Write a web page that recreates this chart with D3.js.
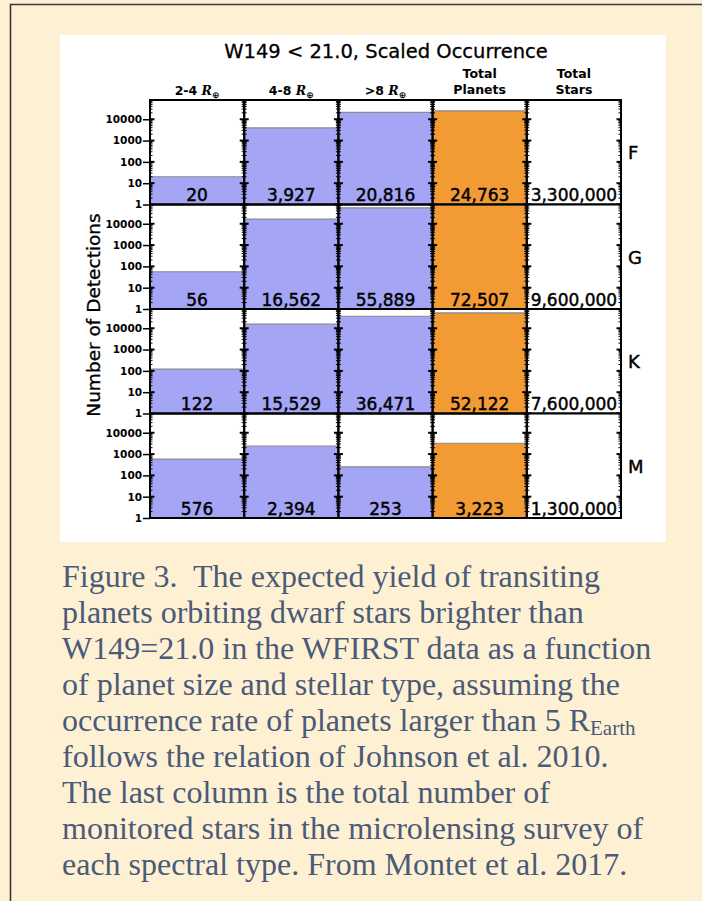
<!DOCTYPE html>
<html>
<head>
<meta charset="utf-8">
<script src="https://cdn.jsdelivr.net/npm/d3@7"></script>
<style>
  body { margin: 0; background: #fef1d3; }
  svg { display: block; }
</style>
</head>
<body>
<div id="chart"></div>
<script>
// values
var starTypes = ["F", "G", "K", "M"];
var colLabels = ["2-4", "4-8", ">8", "Total Planets", "Total Stars"];
var size24 = [20, 56, 122, 576];
var size48 = [3927, 16562, 15529, 2394];
var size8 = [20816, 55889, 36471, 253];
var totalPlanets = [24763, 72507, 52122, 3223];
var totalStars = [3300000, 9600000, 7600000, 1300000];
var yTicks = [1, 10, 100, 1000, 10000];
var captionLines = [
  "Figure 3.  The expected yield of transiting",
  "planets orbiting dwarf stars brighter than",
  "W149=21.0 in the WFIRST data as a function",
  "of planet size and stellar type, assuming the",
  "occurrence rate of planets larger than 5 R",
  "follows the relation of Johnson et al. 2010.",
  "The last column is the total number of",
  "monitored stars in the microlensing survey of",
  "each spectral type. From Montet et al. 2017."
];

var columns = [size24, size48, size8, totalPlanets, totalStars];
var colColors = ["#a5a5f6", "#a5a5f6", "#a5a5f6", "#f29b35", "#ffffff"];
var width = 702, height = 901;
var fmt = d3.format(",");

var svg = d3.select("#chart").append("svg")
    .attr("width", width)
    .attr("height", height)
    .attr("font-family", "DejaVu Sans, sans-serif");

// cream page with border on top/left
svg.append("rect").attr("width", width).attr("height", height).attr("fill", "#fef1d3");
svg.append("path")
    .attr("d", "M10.5," + height + "V4.5H" + width)
    .attr("fill", "none")
    .attr("stroke", "#3a3a3a")
    .attr("stroke-width", 1.6);

// white figure panel
svg.append("rect")
    .attr("x", 60).attr("y", 35)
    .attr("width", 606).attr("height", 507)
    .attr("fill", "#fff");

var x = d3.scaleBand().domain(d3.range(colLabels.length)).range([150, 621]);
var row = d3.scaleBand().domain(starTypes).range([100, 518]);
var y = d3.scaleLog().domain([1, 80000]).range([row.bandwidth(), 0]);
var allTicks = y.ticks();
var minorTicks = allTicks.filter(function(d) { return yTicks.indexOf(d) < 0; });

svg.append("text")
    .attr("x", 386).attr("y", 58)
    .attr("text-anchor", "middle")
    .attr("font-size", 19.5)
    .attr("stroke", "#000").attr("stroke-width", 0.3)
    .text("W149 < 21.0, Scaled Occurrence");

// column headers
var heads = svg.append("g").attr("font-weight", "bold").attr("font-size", 12.5).attr("text-anchor", "middle");
colLabels.forEach(function(lab, j) {
  var cx = x(j) + x.bandwidth() / 2;
  if (j < 3) {
    var t = heads.append("text").attr("x", cx).attr("y", 95);
    t.append("tspan").text(lab + " ");
    t.append("tspan").attr("font-style", "italic").attr("font-family", "DejaVu Serif").text("R");
    t.append("tspan").attr("font-size", 9).attr("dy", 3).text("\u2295");
  } else {
    lab.split(" ").forEach(function(w, k) {
      heads.append("text").attr("x", cx).attr("y", 78 + k * 16).text(w);
    });
  }
});

svg.append("text")
    .attr("transform", "translate(100,315) rotate(-90)")
    .attr("text-anchor", "middle")
    .attr("font-size", 18.5)
    .attr("stroke", "#000").attr("stroke-width", 0.3)
    .text("Number of Detections");

starTypes.forEach(function(st, i) {
  var g = svg.append("g").attr("transform", "translate(0," + row(st) + ")");
  var h = row.bandwidth();

  columns.forEach(function(vals, j) {
    var v = vals[i];
    var top = Math.max(0, y(v));
    g.append("rect")
        .attr("x", x(j)).attr("y", top)
        .attr("width", x.bandwidth()).attr("height", h - top)
        .attr("fill", colColors[j]);
    if (y(v) > 0) {
      g.append("line")
          .attr("x1", x(j)).attr("x2", x(j) + x.bandwidth())
          .attr("y1", top).attr("y2", top)
          .attr("stroke", "#8a8a8a").attr("stroke-width", 1.2);
    }
    g.append("text")
        .attr("x", x(j) + x.bandwidth() / 2)
        .attr("y", h - 3.5)
        .attr("text-anchor", "middle")
        .attr("font-size", 17)
        .attr("stroke", "#000").attr("stroke-width", 0.45)
        .text(fmt(v));

    // inward ticks on both spines of each cell
    [x(j), x(j) + x.bandwidth()].forEach(function(sx, s) {
      var dir = s == 0 ? 1 : -1;
      g.selectAll(null).data(minorTicks).enter().append("line")
          .attr("x1", sx).attr("x2", sx + dir * 2.5)
          .attr("y1", function(d) { return y(d); }).attr("y2", function(d) { return y(d); })
          .attr("stroke", "#000").attr("stroke-width", 1);
      g.selectAll(null).data(yTicks).enter().append("line")
          .attr("x1", sx).attr("x2", sx + dir * 4.5)
          .attr("y1", function(d) { return y(d); }).attr("y2", function(d) { return y(d); })
          .attr("stroke", "#000").attr("stroke-width", 2);
    });
  });

  var yAxis = d3.axisLeft(y)
      .tickValues(yTicks)
      .tickSize(7)
      .tickPadding(1)
      .tickFormat(d3.format("d"));
  var ax = g.append("g")
      .attr("transform", "translate(" + x(0) + ",0)")
      .call(yAxis);
  ax.select(".domain").remove();
  ax.selectAll("text").attr("font-size", 10.5).attr("font-weight", "bold")
      .attr("font-family", "DejaVu Sans").attr("fill", "#000");
  ax.selectAll("line").attr("stroke-width", 1.5);

  // cell frames
  g.selectAll(".cell").data(columns).enter().append("rect")
      .attr("x", function(d, j) { return x(j); })
      .attr("y", 0)
      .attr("width", x.bandwidth()).attr("height", h)
      .attr("fill", "none").attr("stroke", "#000").attr("stroke-width", 2);

  g.append("text")
      .attr("x", 628).attr("y", h / 2 + 7)
      .attr("font-size", 18)
      .attr("stroke", "#000").attr("stroke-width", 0.4)
      .text(st);
});

// caption
var cap = svg.append("g")
    .attr("fill", "#4a5a78")
    .attr("font-family", "Liberation Serif, Times New Roman, serif")
    .attr("font-size", 32);
captionLines.forEach(function(line, i) {
  var t = cap.append("text")
      .attr("x", 62).attr("y", 587 + i * 36)
      .style("white-space", "pre")
      .text(line);
  if (i == 4) {
    t.append("tspan").attr("font-size", 21).attr("dy", 4).text("Earth");
  }
});
</script>
</body>
</html>
